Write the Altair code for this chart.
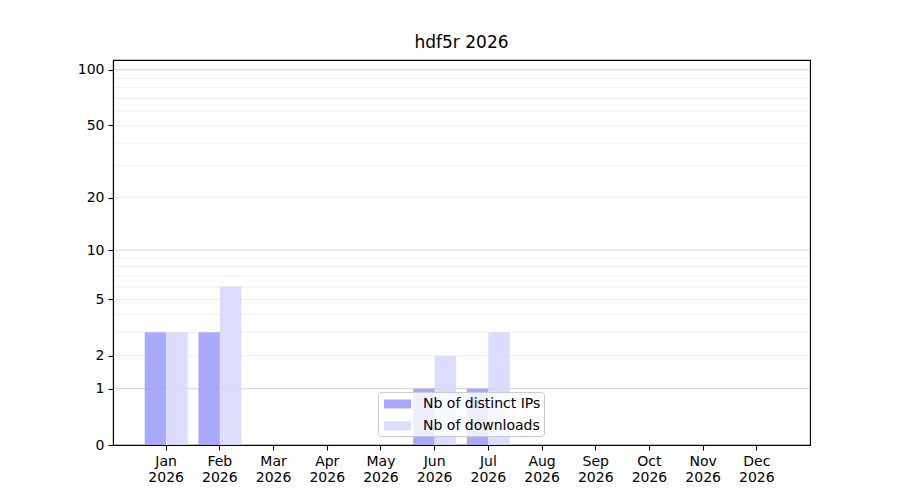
import altair as alt
import pandas as pd

months = ["Jan", "Feb", "Mar", "Apr", "May", "Jun", "Jul", "Aug", "Sep", "Oct", "Nov", "Dec"]
year = "2026"
ips = [3, 3, 0, 0, 0, 1, 1, 0, 0, 0, 0, 0]
downloads = [3, 6, 0, 0, 0, 2, 3, 0, 0, 0, 0, 0]
series = ["Nb of distinct IPs", "Nb of downloads"]
series_colors = ["#9a9afa", "#d6d6fc"]
y_ticks = [0, 1, 2, 5, 10, 20, 50, 100]
major_grid = [1, 10, 100]
minor_grid = [2, 3, 4, 5, 6, 7, 8, 9, 20, 30, 40, 50, 60, 70, 80, 90]
y_max = 113

labels = [f"{m} {year}" for m in months]
rows = []
for lab, a, b in zip(labels, ips, downloads):
    rows.append({"month": lab, "series": series[0], "value": a})
    rows.append({"month": lab, "series": series[1], "value": b})
df = pd.DataFrame(rows)

yscale = alt.Scale(type="symlog", constant=1, domain=[0, y_max], nice=False, zero=True)
yaxis = alt.Axis(values=y_ticks, grid=False, tickSize=5, labelPadding=4, format="d", title=None)

minor = alt.Chart(pd.DataFrame({"v": minor_grid})).mark_rule(
    color="#ebebeb", strokeWidth=0.8
).encode(
    x=alt.value(1.5),
    x2=alt.value(696),
    y=alt.Y("v:Q", scale=yscale, axis=None, title=None),
)

major = alt.Chart(pd.DataFrame({"v": major_grid})).mark_rule(
    color="#c8c8c8", strokeWidth=0.8
).encode(
    x=alt.value(1.5),
    x2=alt.value(696),
    y=alt.Y("v:Q", scale=yscale, axis=None, title=None),
)

bars = alt.Chart(df).mark_bar(opacity=0.85).encode(
    x=alt.X(
        "month:N",
        sort=labels,
        title=None,
        scale=alt.Scale(paddingInner=0.2, paddingOuter=0.59),
        axis=alt.Axis(
            labelAngle=0,
            labelExpr="split(datum.label, ' ')",
            labelLineHeight=16,
            labelBaseline="top",
            labelPadding=4,
            tickSize=5,
            grid=False,
        ),
    ),
    xOffset=alt.XOffset("series:N", sort=series, scale=alt.Scale(paddingInner=0, paddingOuter=0)),
    y=alt.Y("value:Q", scale=yscale, title=None, axis=yaxis),
    color=alt.Color(
        "series:N",
        sort=series,
        scale=alt.Scale(domain=series, range=series_colors),
        legend=alt.Legend(
            title=None,
            orient="none",
            legendX=265,
            legendY=332,
            symbolType="M-1.5,-0.5H1.5V0.5H-1.5Z",
            symbolSize=324,
            symbolOffset=7.5,
            symbolStrokeWidth=0,
            symbolOpacity=0.85,
            labelFontSize=14,
            labelOffset=16.5,
            rowPadding=6,
            padding=3,
            fillColor="rgba(255,255,255,0.8)",
            strokeColor="#cccccc",
            cornerRadius=3,
            labelColor="black",
        ),
    ),
)

chart = alt.layer(minor, major, bars).resolve_axis(y="independent").properties(
    width=697,
    height=385,
    title=alt.TitleParams("hdf5r 2026", fontSize=17, fontWeight="normal", offset=8, color="black"),
    padding={"left": 105, "top": 52, "right": 80, "bottom": 45},
    autosize=alt.AutoSizeParams(type="none"),
).configure(
    font="DejaVu Sans",
).configure_view(
    stroke="black", strokeWidth=1.1
).configure_axis(
    labelFont="DejaVu Sans",
    labelFontSize=14,
    labelColor="black",
    tickColor="black",
    domainColor="black",
    domainWidth=1.1,
    tickWidth=1.1,
)

chart.save("out.html", embed_options={"renderer": "svg", "actions": False})
